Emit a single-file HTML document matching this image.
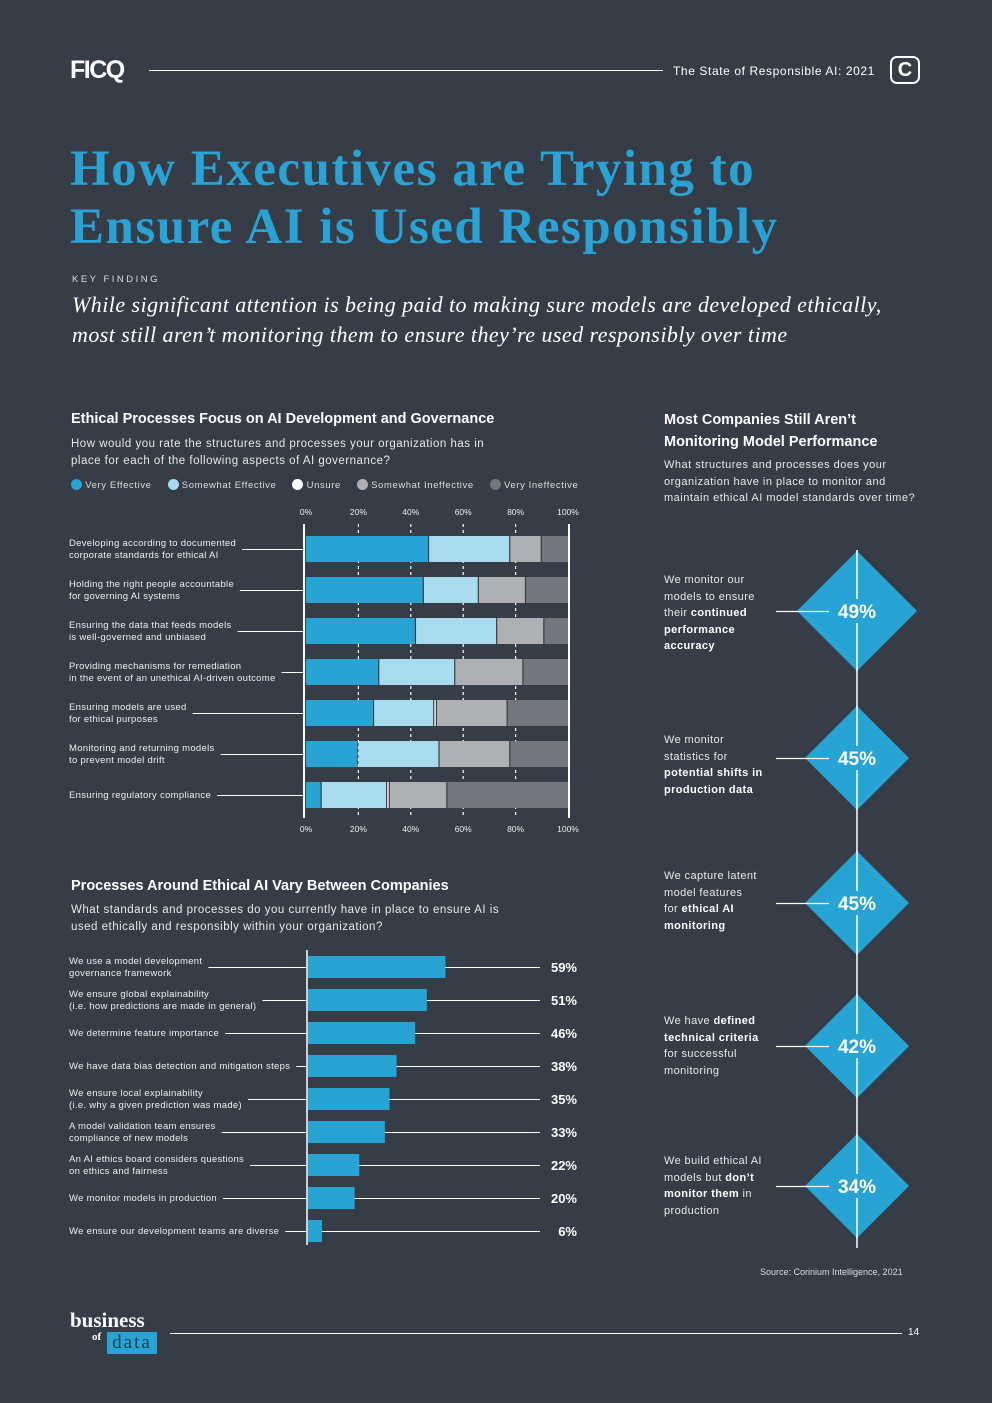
<!DOCTYPE html>
<html><head><meta charset="utf-8"><style>
*{margin:0;padding:0;box-sizing:border-box}
body{width:992px;height:1403px;background:#363d47;position:relative;overflow:hidden;font-family:"Liberation Sans",sans-serif;color:#fff}
.a{position:absolute}
.rt{font-size:11.5px;letter-spacing:.5px;line-height:17px;color:#e8e8e8}
.ml{position:absolute;left:664px;font-size:11px;letter-spacing:.4px;line-height:16.6px;color:#e8e8e8;white-space:nowrap}
.ml b{color:#fff}
</style></head><body>
<div class="a" style="left:70px;top:56px;font-size:25px;font-weight:900;letter-spacing:-1.5px">FICQ</div>
<div class="a" style="left:149px;top:70px;width:514px;height:1px;background:#fff"></div>
<div class="a" style="left:673px;top:64px;font-size:12px;letter-spacing:.6px">The State of Responsible AI: 2021</div>
<div class="a" style="left:890px;top:56px;width:30px;height:28px;border:2px solid #fff;border-radius:7px;font-weight:bold;font-size:20px;text-align:center;line-height:24px">C</div>
<div class="a" style="left:70px;top:140px;font-family:'Liberation Serif',serif;font-weight:bold;font-size:51px;line-height:58px;color:#29a3d5;letter-spacing:1.5px;white-space:nowrap">How Executives are Trying to<br>Ensure AI is Used Responsibly</div>
<div class="a" style="left:72px;top:274px;font-size:9.5px;letter-spacing:2.5px;color:#ddd">KEY FINDING</div>
<div class="a" style="left:72px;top:290px;font-family:'Liberation Serif',serif;font-style:italic;font-size:22px;line-height:30px;letter-spacing:.45px;white-space:nowrap">While significant attention is being paid to making sure models are developed ethically,<br>most still aren’t monitoring them to ensure they’re used responsibly over time</div>

<div class="a" style="left:71px;top:411px;font-size:14.5px;font-weight:bold">Ethical Processes Focus on AI Development and Governance</div>
<div class="a rt" style="left:71px;top:436px">How would you rate the structures and processes your organization has in<br>place for each of the following aspects of AI governance?</div>
<div class="a" style="left:71px;top:479px;font-size:9.5px;color:#ddd;letter-spacing:.6px;display:flex;gap:16px;align-items:center;white-space:nowrap">
<span><b style="display:inline-block;width:11px;height:11px;border-radius:50%;background:#27a4d4;vertical-align:-2px"></b> Very Effective</span>
<span><b style="display:inline-block;width:11px;height:11px;border-radius:50%;background:#a7dbed;vertical-align:-2px"></b> Somewhat Effective</span>
<span><b style="display:inline-block;width:11px;height:11px;border-radius:50%;background:#fff;vertical-align:-2px"></b> Unsure</span>
<span><b style="display:inline-block;width:11px;height:11px;border-radius:50%;background:#aeb0b3;vertical-align:-2px"></b> Somewhat Ineffective</span>
<span><b style="display:inline-block;width:11px;height:11px;border-radius:50%;background:#73767d;vertical-align:-2px"></b> Very Ineffective</span>
</div>
<svg class="a" id="c1" style="left:0;top:0" width="992" height="1403"></svg>

<div class="a" style="left:71px;top:878px;font-size:14.5px;font-weight:bold">Processes Around Ethical AI Vary Between Companies</div>
<div class="a rt" style="left:71px;top:902px">What standards and processes do you currently have in place to ensure AI is<br>used ethically and responsibly within your organization?</div>

<div class="a" style="left:664px;top:409px;font-size:14.5px;font-weight:bold;line-height:22px">Most Companies Still Aren’t<br>Monitoring Model Performance</div>
<div class="a rt" style="left:664px;top:457px;font-size:11px;line-height:16.5px">What structures and processes does your<br>organization have in place to monitor and<br>maintain ethical AI model standards over time?</div>

<div class="ml" style="top:572px">We monitor our<br>models to ensure<br>their <b>continued</b><br><b>performance</b><br><b>accuracy</b></div>
<div class="ml" style="top:732px">We monitor<br>statistics for<br><b>potential shifts in</b><br><b>production data</b></div>
<div class="ml" style="top:868px">We capture latent<br>model features<br>for <b>ethical AI</b><br><b>monitoring</b></div>
<div class="ml" style="top:1013px">We have <b>defined</b><br><b>technical criteria</b><br>for successful<br>monitoring</div>
<div class="ml" style="top:1153px">We build ethical AI<br>models but <b>don’t</b><br><b>monitor them</b> in<br>production</div>

<div class="a" style="left:760px;top:1267px;font-size:9px;color:#ddd">Source: Corinium Intelligence, 2021</div>

<div class="a" style="left:70px;top:1310px;font-family:'Liberation Serif',serif;font-weight:bold;font-size:21px;line-height:20px">business</div>
<div class="a" style="left:92px;top:1331px;font-family:'Liberation Serif',serif;font-weight:bold;font-size:11px">of</div>
<div class="a" style="left:107px;top:1332px;width:50px;height:22px;background:#27a4d4;color:#1b3a55;font-family:'Liberation Serif',serif;font-size:19px;line-height:22px;text-align:center;letter-spacing:2px">data</div>
<div class="a" style="left:170px;top:1333px;width:732px;height:1px;background:#fff"></div>
<div class="a" style="left:908px;top:1327px;font-size:10px">14</div>

<script>
const NS='http://www.w3.org/2000/svg';
const svg=document.getElementById('c1');
function mk(t,a){const e=document.createElementNS(NS,t);for(const k in a)e.setAttribute(k,a[k]);svg.appendChild(e);return e;}

// Chart 1 data
const c1Cats=["Developing according to documented|corporate standards for ethical AI","Holding the right people accountable|for governing AI systems","Ensuring the data that feeds models|is well-governed and unbiased","Providing mechanisms for remediation|in the event of an unethical AI-driven outcome","Ensuring models are used|for ethical purposes","Monitoring and returning models|to prevent model drift","Ensuring regulatory compliance"];
const veryEff=[47,45,42,28,26,20,6];
const someEff=[31,21,31,29,23,31,25];
const unsure=[0,0,0,0,1,0,1];
const someIneff=[12,18,18,26,27,27,22];
const veryIneff=[10,16,9,17,23,22,46];
const c1Ticks=["0%","20%","40%","60%","80%","100%"];
const c1Colors=['#27a4d4','#a7dbed','#ffffff','#aeb0b3','#73767d'];
const x1=v=>306+v*2.62;
const y1=i=>536+i*41;
c1Ticks.forEach((t,k)=>{
  const v=k*20;
  [515,832].forEach(yy=>{const e=mk('text',{x:x1(v),y:yy,'text-anchor':'middle','font-size':'8.5','fill':'#eee'});e.textContent=t;
  
  });
  if(k>0&&k<5){const g=mk('line',{x1:x1(v),x2:x1(v),y1:524,y2:816,stroke:'#fff','stroke-width':1.2,'stroke-dasharray':'3,3'});
  
  }
});
const series=[veryEff,someEff,unsure,someIneff,veryIneff];
c1Cats.forEach((c,i)=>{
  let acc=0;
  series.forEach((s,j)=>{
    if(s[i]>0){const r=mk('rect',{x:x1(acc),y:y1(i),width:s[i]*2.62-(j<4?1.2:0),height:26,fill:c1Colors[j]});
    
    }
    acc+=s[i];
  });
  const lines=c.split('|');
  const ty=y1(i)+13-(lines.length-1)*6+3;
  const t=mk('text',{x:69,y:ty,'font-size':'9.5','fill':'#eee','letter-spacing':'0.3'});
  
  
  lines.forEach((l,k)=>{const ts=document.createElementNS(NS,'tspan');ts.setAttribute('x',69);ts.setAttribute('dy',k?12:0);ts.textContent=l;t.appendChild(ts);});
  const w=t.getBBox().width;
  const yy=Math.round(y1(i)+13)+0.5;
  const ln=mk('line',{x1:69+w+6,x2:304,y1:yy,y2:yy,stroke:'#fff','stroke-width':1});
  
  
});
[304,569].forEach(xx=>{const l=mk('line',{x1:xx,x2:xx,y1:524,y2:818,stroke:'#fff','stroke-width':2});

});

// Chart 2 data
const c2Cats=["We use a model development|governance framework","We ensure global explainability|(i.e. how predictions are made in general)","We determine feature importance","We have data bias detection and mitigation steps","We ensure local explainability|(i.e. why a given prediction was made)","A model validation team ensures|compliance of new models","An AI ethics board considers questions|on ethics and fairness","We monitor models in production","We ensure our development teams are diverse"];
const c2Vals=[59,51,46,38,35,33,22,20,6];
const x2=v=>308+v*2.33;
const y2=i=>967+i*33;
const ax2=mk('line',{x1:307,x2:307,y1:950,y2:1245,stroke:'#fff','stroke-width':1.5});


c2Cats.forEach((c,i)=>{
  const yc=y2(i);
  const r=mk('rect',{x:308,y:yc-11,width:c2Vals[i]*2.33,height:22,fill:'#27a4d4'});
  
  
  const lines=c.split('|');
  const t=mk('text',{x:69,y:yc+3-(lines.length-1)*6,'font-size':'9.5','fill':'#eee','letter-spacing':'0.3'});
  
  
  lines.forEach((l,k)=>{const ts=document.createElementNS(NS,'tspan');ts.setAttribute('x',69);ts.setAttribute('dy',k?12:0);ts.textContent=l;t.appendChild(ts);});
  const w=t.getBBox().width;
  const yy=yc+0.5;
  const l1=mk('line',{x1:69+w+6,x2:306,y1:yy,y2:yy,stroke:'#fff'});
  
  
  const l2=mk('line',{x1:x2(c2Vals[i]),x2:540,y1:yy,y2:yy,stroke:'#fff'});
  
  
  const v=mk('text',{x:577,y:yc+5,'text-anchor':'end','font-size':'13','font-weight':'bold','fill':'#fff'});
  v.textContent=c2Vals[i]+'%';
  
  
});

// Chart 3 data
const c3Vals=[49,45,45,42,34];
const c3Y=[611,758,903,1046,1186];
const vl=mk('line',{x1:857,x2:857,y1:550,y2:1248,stroke:'#fff','stroke-width':1.5});


c3Vals.forEach((v,i)=>{
  const cy=c3Y[i],h=i==0?60:52;
  const d=mk('polygon',{points:`857,${cy-h} ${857+h},${cy} 857,${cy+h} ${857-h},${cy}`,fill:'#27a4d4'});
  
  
  mk('line',{x1:857,x2:857,y1:cy-h,y2:cy-12,stroke:'#fff','stroke-width':1.5});
  mk('line',{x1:857,x2:857,y1:cy+12,y2:cy+h,stroke:'#fff','stroke-width':1.5});
  mk('line',{x1:776,x2:829,y1:cy+0.5,y2:cy+0.5,stroke:'#fff','stroke-width':1.2});
  const t=mk('text',{x:857,y:cy+7,'text-anchor':'middle','font-size':'19','font-weight':'bold','fill':'#fff'});
  t.textContent=v+'%';
  
  
});
</script>
</body></html>
